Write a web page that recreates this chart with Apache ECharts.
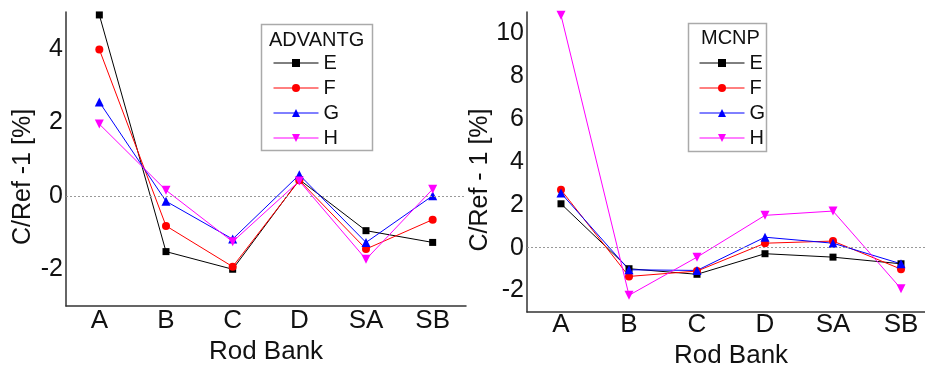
<!DOCTYPE html>
<html>
<head>
<meta charset="utf-8">
<script src="https://cdn.jsdelivr.net/npm/echarts@6/dist/echarts.min.js"></script>
<style>
  html, body { margin: 0; padding: 0; background: #fff; }
  #chart { width: 925px; height: 365px; }
</style>
</head>
<body>
<div id="chart"></div>
<script>
// rod banks
var banks = ['A', 'B', 'C', 'D', 'SA', 'SB'];
// ADVANTG panel
var advE = [4.92, -1.52, -2.0, 0.44, -0.95, -1.27];
var advF = [3.98, -0.82, -1.93, 0.42, -1.45, -0.65];
var advG = [2.55, -0.15, -1.18, 0.57, -1.27, 0.0];
var advH = [1.95, 0.15, -1.25, 0.40, -1.73, 0.18];
// MCNP panel
var mcnpE = [2.05, -0.98, -1.24, -0.28, -0.44, -0.75];
var mcnpF = [2.70, -1.34, -1.09, 0.21, 0.31, -1.0];
var mcnpG = [2.55, -1.03, -1.06, 0.49, 0.21, -0.75];
var mcnpH = [10.85, -2.22, -0.44, 1.51, 1.71, -1.91];
// tick labels
var advTicks = [-2, 0, 2, 4];
var mcnpTicks = [-2, 0, 2, 4, 6, 8, 10];

var FONT = 'Liberation Sans';
var chart = echarts.init(document.getElementById('chart'));

var styles = {
  E: { color: '#000000', symbol: 'rect', size: 7 },
  F: { color: '#ff0000', symbol: 'circle', size: 8 },
  G: { color: '#0000ff', symbol: 'triangle', size: 9 },
  H: { color: '#ff00ff', symbol: 'path://M0,0 L10,0 L5,9 Z', size: 9 }
};

function mkSeries(name, data, idx) {
  var s = styles[name];
  return {
    name: name,
    type: 'line',
    xAxisIndex: idx,
    yAxisIndex: idx,
    data: data,
    symbol: s.symbol,
    symbolSize: s.size,
    itemStyle: { color: s.color },
    lineStyle: { color: s.color, width: 1 },
    emphasis: { disabled: true },
    z: 3,
    animation: false
  };
}

// dotted line at zero, on its own empty series
function zeroSeries(idx) {
  return {
    name: 'zero' + idx,
    type: 'line',
    xAxisIndex: idx,
    yAxisIndex: idx,
    data: [],
    z: 1,
    markLine: {
      silent: true,
      symbol: 'none',
      label: { show: false },
      lineStyle: { color: '#999', type: [2, 2], width: 1 },
      data: [{ yAxis: 0 }]
    }
  };
}

function mkX(idx, gap, margin) {
  return {
    type: 'category',
    gridIndex: idx,
    data: banks,
    boundaryGap: true,
    name: 'Rod Bank',
    nameLocation: 'middle',
    nameGap: gap,
    nameTextStyle: { fontFamily: FONT, fontSize: 26, color: '#111' },
    axisLine: { onZero: false, lineStyle: { color: '#333', width: 1.5 } },
    axisTick: { show: false },
    axisLabel: { fontFamily: FONT, fontSize: 26, color: '#111', margin: margin },
    splitLine: { show: false }
  };
}

function mkY(idx, min, max, ticks, name) {
  return {
    type: 'value',
    gridIndex: idx,
    min: min,
    max: max,
    name: name,
    nameLocation: 'middle',
    nameGap: 30,
    nameTextStyle: { fontFamily: FONT, fontSize: 25, color: '#111', padding: [0, 36, 0, 0] },
    axisLine: { show: true, onZero: false, lineStyle: { color: '#333', width: 1.5 } },
    axisTick: { show: false },
    axisLabel: { fontFamily: FONT, fontSize: 25, color: '#111', margin: 3, customValues: ticks },
    splitLine: { show: false }
  };
}

var legendText = { fontFamily: FONT, fontSize: 20, color: '#111' };

function mkLegend(left) {
  return {
    left: left, top: 48, orient: 'vertical',
    itemWidth: 45, itemHeight: 10, itemGap: 5,
    lineStyle: { width: 1 },
    textStyle: legendText, selectedMode: false,
    data: ['E', 'F', 'G', 'H']
  };
}

chart.setOption({
  backgroundColor: '#fff',
  animation: false,
  grid: [
    { left: 66, top: 12, width: 400, height: 294, outerBoundsMode: 'none' },
    { left: 527, top: 12, width: 408, height: 300, outerBoundsMode: 'none' }
  ],
  xAxis: [mkX(0, 33, 2), mkX(1, 24, 0)],
  yAxis: [
    mkY(0, -3, 5, advTicks, 'C/Ref -1 [%]'),
    mkY(1, -3, 11, mcnpTicks, 'C/Ref - 1 [%]')
  ],
  legend: [mkLegend(268), mkLegend(694)],
  graphic: [
    { type: 'rect', left: 259, top: 22, shape: { width: 111, height: 126 },
      style: { fill: 'none', stroke: '#aaa', lineWidth: 1.5 }, z: 0 },
    { type: 'text', left: 269, top: 30, style: { text: 'ADVANTG', font: '20px "Liberation Sans"', fill: '#111' } },
    { type: 'rect', left: 686, top: 21, shape: { width: 78, height: 128 },
      style: { fill: 'none', stroke: '#aaa', lineWidth: 1.5 }, z: 0 },
    { type: 'text', left: 701, top: 28, style: { text: 'MCNP', font: '20px "Liberation Sans"', fill: '#111' } }
  ],
  series: [
    zeroSeries(0),
    zeroSeries(1),
    mkSeries('E', advE, 0),
    mkSeries('F', advF, 0),
    mkSeries('G', advG, 0),
    mkSeries('H', advH, 0),
    mkSeries('E', mcnpE, 1),
    mkSeries('F', mcnpF, 1),
    mkSeries('G', mcnpG, 1),
    mkSeries('H', mcnpH, 1)
  ]
});
</script>
</body>
</html>
